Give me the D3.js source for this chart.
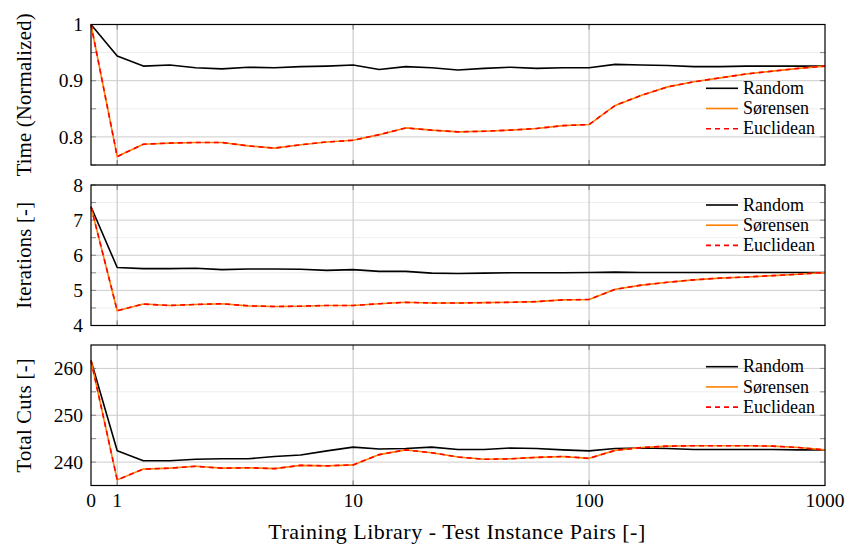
<!DOCTYPE html>
<html>
<head>
<meta charset="utf-8">
<script src="https://cdn.jsdelivr.net/npm/d3@7"></script>
</head>
<body style="margin:0">
<svg width="846" height="547" font-family="Liberation Serif"></svg>
<script>
// training library sizes (0 is drawn one step left of 1)
const pairs = [0, 1, 1.29, 1.67, 2.15, 2.78, 3.59, 4.64, 5.99, 7.74, 10, 12.9, 16.7, 21.5, 27.8, 35.9, 46.4, 59.9, 77.4, 100, 129, 167, 215, 278, 359, 464, 599, 774, 1000]
const xTicks = [0, 1, 10, 100, 1000]

const timeRandom = [1.0, 0.944, 0.926, 0.928, 0.923, 0.921, 0.924, 0.923, 0.925, 0.926, 0.928, 0.920, 0.925, 0.923, 0.919, 0.922, 0.924, 0.922, 0.923, 0.923, 0.929, 0.928, 0.927, 0.925, 0.925, 0.926, 0.926, 0.926, 0.926]
const timeSorensen = [1.0, 0.765, 0.787, 0.789, 0.790, 0.790, 0.784, 0.780, 0.786, 0.791, 0.794, 0.804, 0.816, 0.812, 0.809, 0.810, 0.812, 0.815, 0.820, 0.822, 0.856, 0.874, 0.889, 0.898, 0.905, 0.912, 0.917, 0.922, 0.926]
const timeEuclidean = [1.0, 0.765, 0.787, 0.789, 0.790, 0.790, 0.784, 0.780, 0.786, 0.791, 0.794, 0.804, 0.816, 0.812, 0.809, 0.810, 0.812, 0.815, 0.820, 0.822, 0.856, 0.874, 0.889, 0.898, 0.905, 0.912, 0.917, 0.922, 0.926]

const iterRandom = [7.38, 5.65, 5.62, 5.62, 5.63, 5.59, 5.61, 5.61, 5.60, 5.57, 5.59, 5.54, 5.54, 5.49, 5.48, 5.49, 5.50, 5.50, 5.50, 5.51, 5.52, 5.51, 5.51, 5.51, 5.51, 5.51, 5.51, 5.51, 5.51]
const iterSorensen = [7.38, 4.42, 4.61, 4.57, 4.60, 4.62, 4.56, 4.54, 4.55, 4.57, 4.57, 4.62, 4.66, 4.64, 4.64, 4.65, 4.66, 4.68, 4.73, 4.74, 5.03, 5.15, 5.23, 5.30, 5.35, 5.38, 5.42, 5.46, 5.51]
const iterEuclidean = [7.38, 4.42, 4.61, 4.57, 4.60, 4.62, 4.56, 4.54, 4.55, 4.57, 4.57, 4.62, 4.66, 4.64, 4.64, 4.65, 4.66, 4.68, 4.73, 4.74, 5.03, 5.15, 5.23, 5.30, 5.35, 5.38, 5.42, 5.46, 5.51]

const cutsRandom = [261.7, 242.4, 240.3, 240.3, 240.6, 240.7, 240.7, 241.2, 241.5, 242.4, 243.2, 242.8, 242.9, 243.2, 242.7, 242.7, 243.0, 242.9, 242.6, 242.4, 242.9, 243.0, 242.9, 242.7, 242.7, 242.7, 242.7, 242.6, 242.6]
const cutsSorensen = [261.7, 236.2, 238.5, 238.7, 239.1, 238.7, 238.8, 238.6, 239.3, 239.2, 239.4, 241.6, 242.6, 242.0, 241.1, 240.6, 240.7, 241.0, 241.2, 240.8, 242.5, 243.1, 243.4, 243.5, 243.5, 243.5, 243.4, 243.1, 242.6]
const cutsEuclidean = [261.7, 236.2, 238.5, 238.7, 239.1, 238.7, 238.8, 238.6, 239.3, 239.2, 239.4, 241.6, 242.6, 242.0, 241.1, 240.6, 240.7, 241.0, 241.2, 240.8, 242.5, 243.1, 243.4, 243.5, 243.5, 243.5, 243.4, 243.1, 242.6]

const seriesNames = ['Random', 'Sørensen', 'Euclidean']

const svg = d3.select('svg')
const fontName = 'Liberation Serif'

const left = 91, right = 825, panelH = 140.5
const zeroAt = Math.pow(10, -1 / 9)

const xLog = d3.scaleLog()
  .domain([zeroAt, 1000])
  .range([left, right])
const x = d => xLog(d === 0 ? zeroAt : d)

const panels = [
  { top: 24.5, domain: [0.75, 1], major: [0.8, 0.9, 1], minor: [0.75, 0.85, 0.95], fmt: d => d === 1 ? '1' : d.toFixed(1),
    label: 'Time (Normalized)', series: [timeRandom, timeSorensen, timeEuclidean], legTop: 88.3 },
  { top: 185, domain: [4, 8], major: [4, 5, 6, 7, 8], minor: [4.5, 5.5, 6.5, 7.5], fmt: d => d,
    label: 'Iterations [-]', series: [iterRandom, iterSorensen, iterEuclidean], legTop: 205 },
  { top: 345, domain: [235, 265], major: [240, 250, 260], minor: [245, 255], fmt: d => d,
    label: 'Total Cuts [-]', series: [cutsRandom, cutsSorensen, cutsEuclidean], legTop: 366.7 }
]

const styles = [
  { color: '#000', dash: null },
  { color: '#ff8000', dash: null },
  { color: '#ff0000', dash: '5,4' }
]

panels.forEach(p => {
  const y = d3.scaleLinear()
    .domain(p.domain)
    .range([p.top + panelH, p.top])
  const g = svg.append('g')

  // minor grid
  g.selectAll('line.minor')
    .data(p.minor)
    .enter()
    .append('line')
    .attr('x1', left).attr('x2', right)
    .attr('y1', d => y(d)).attr('y2', d => y(d))
    .attr('stroke', '#eeeeee')
    .attr('stroke-width', 1)

  // major grid
  g.selectAll('line.major')
    .data(p.major)
    .enter()
    .append('line')
    .attr('x1', left).attr('x2', right)
    .attr('y1', d => y(d)).attr('y2', d => y(d))
    .attr('stroke', '#cccccc')
    .attr('stroke-width', 1)

  // vertical grid
  g.selectAll('line.vgrid')
    .data(xTicks.slice(1, -1))
    .enter()
    .append('line')
    .attr('x1', d => x(d)).attr('x2', d => x(d))
    .attr('y1', p.top).attr('y2', p.top + panelH)
    .attr('stroke', '#cfcfcf')
    .attr('stroke-width', 1.3)

  // x tick marks (top and bottom, inside)
  xTicks.slice(1, -1).forEach(t => {
    ;[[p.top, p.top + 5], [p.top + panelH - 5, p.top + panelH]].forEach(s => {
      g.append('line')
        .attr('x1', x(t)).attr('x2', x(t))
        .attr('y1', s[0]).attr('y2', s[1])
        .attr('stroke', '#888')
        .attr('stroke-width', 1.3)
    })
  })

  // y tick marks both sides
  p.major.concat(p.minor).forEach(t => {
    ;[[left, left + 5], [right - 5, right]].forEach(s => {
      g.append('line')
        .attr('x1', s[0]).attr('x2', s[1])
        .attr('y1', y(t)).attr('y2', y(t))
        .attr('stroke', '#888')
        .attr('stroke-width', 1)
    })
  })

  // tick labels
  g.selectAll('text.ytick')
    .data(p.major)
    .enter()
    .append('text')
    .attr('x', left - 8)
    .attr('y', d => y(d))
    .attr('dy', '0.34em')
    .attr('text-anchor', 'end')
    .attr('font-family', fontName)
    .attr('font-size', 19.5)
    .text(p.fmt)

  // axis label
  g.append('text')
    .attr('transform', `translate(24, ${p.top + panelH / 2}) rotate(-90)`)
    .attr('dy', '0.33em')
    .attr('text-anchor', 'middle')
    .attr('font-family', fontName)
    .attr('font-size', 20.5)
    .attr('letter-spacing', 0.3)
    .text(p.label)

  // lines
  const line = d3.line()
    .x((d, i) => x(pairs[i]))
    .y(d => y(d))
  p.series.forEach((s, si) => {
    g.append('path')
      .datum(s)
      .attr('d', line)
      .attr('fill', 'none')
      .attr('stroke', styles[si].color)
      .attr('stroke-width', 1.6)
      .attr('stroke-dasharray', styles[si].dash)
      .attr('stroke-linejoin', 'round')
  })

  // frame
  g.append('rect')
    .attr('x', left).attr('y', p.top)
    .attr('width', right - left).attr('height', panelH)
    .attr('fill', 'none')
    .attr('stroke', '#000')
    .attr('stroke-width', 1.2)

  // legend
  seriesNames.forEach((n, si) => {
    const ly = p.legTop + si * 20.2
    g.append('line')
      .attr('x1', 706).attr('x2', 738)
      .attr('y1', ly).attr('y2', ly)
      .attr('stroke', styles[si].color)
      .attr('stroke-width', 1.6)
      .attr('stroke-dasharray', styles[si].dash)
    g.append('text')
      .attr('x', 743)
      .attr('y', ly)
      .attr('dy', '0.32em')
      .attr('font-family', fontName)
      .attr('font-size', 18)
      .text(n)
  })
})

// x tick labels
svg.selectAll('text.xtick')
  .data(xTicks)
  .enter()
  .append('text')
  .attr('x', d => x(d))
  .attr('y', 500)
  .attr('dy', '0.34em')
  .attr('text-anchor', 'middle')
  .attr('font-family', fontName)
  .attr('font-size', 19.5)
  .text(d => d)

svg.append('text')
  .attr('x', (left + right) / 2 - 1)
  .attr('y', 532)
  .attr('dy', '0.33em')
  .attr('text-anchor', 'middle')
  .attr('font-family', fontName)
  .attr('font-size', 22)
  .attr('letter-spacing', 0.5)
  .text('Training Library - Test Instance Pairs [-]')
</script>
</body>
</html>
